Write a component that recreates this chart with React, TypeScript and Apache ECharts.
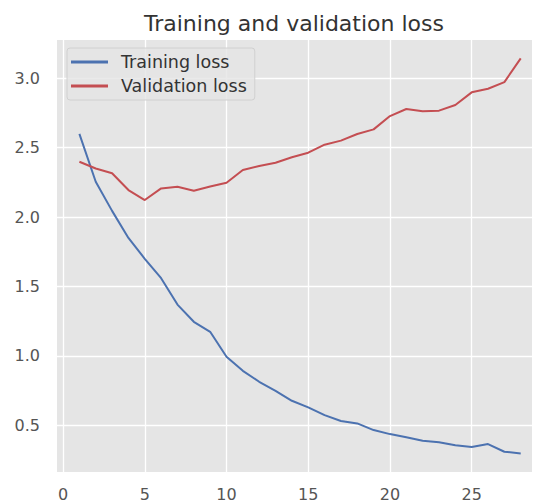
import React, { useEffect, useRef } from "react";
import * as echarts from "echarts";

const epochs = [1, 2, 3, 4, 5, 6, 7, 8, 9, 10, 11, 12, 13, 14, 15, 16, 17, 18, 19, 20, 21, 22, 23, 24, 25, 26, 27, 28];
const trainingLoss = [2.60, 2.255, 2.045, 1.85, 1.70, 1.56, 1.37, 1.246, 1.174, 0.994, 0.893, 0.814, 0.749, 0.677, 0.630, 0.574, 0.531, 0.514, 0.466, 0.437, 0.414, 0.389, 0.378, 0.356, 0.344, 0.365, 0.310, 0.298];
const validationLoss = [2.399, 2.35, 2.316, 2.195, 2.123, 2.207, 2.219, 2.19, 2.22, 2.248, 2.339, 2.368, 2.392, 2.431, 2.464, 2.522, 2.551, 2.599, 2.632, 2.728, 2.779, 2.762, 2.767, 2.808, 2.899, 2.925, 2.973, 3.144];
const xTicks = [0, 5, 10, 15, 20, 25];
const yTicks = [0.5, 1.0, 1.5, 2.0, 2.5, 3.0];
const seriesNames = ["Training loss", "Validation loss"];
const titleText = "Training and validation loss";

export default function App() {
  const ref = useRef<HTMLDivElement>(null);
  useEffect(() => {
    if (!ref.current) return;
    const chart = echarts.init(ref.current, null, { renderer: "svg" });
    const font = "DejaVu Sans";
    chart.setOption({
      animation: false,
      backgroundColor: "#ffffff",
      title: {
        text: titleText,
        left: 139,
        top: 7,
        textStyle: { fontFamily: font, fontSize: 22, fontWeight: "normal", color: "#333333" },
      },
      legend: {
        orient: "vertical",
        left: 67,
        top: 48,
        padding: [5, 8, 5, 4],
        itemGap: 6,
        itemWidth: 37,
        itemHeight: 3,
        icon: "rect",
        backgroundColor: "rgba(229,229,229,0.8)",
        borderColor: "#d0d0d0",
        borderWidth: 1,
        borderRadius: 3,
        textStyle: { fontFamily: font, fontSize: 17.5, color: "#333333", padding: [0, 0, 0, 8] },
        data: seriesNames,
      },
      grid: {
        left: 57,
        top: 40,
        right: 2,
        height: 432,
        show: true,
        backgroundColor: "#E5E5E5",
        borderWidth: 0,
      },
      xAxis: {
        type: "value",
        min: -0.37,
        max: 28.69,
        axisLine: { show: false },
        axisTick: { show: false, customValues: xTicks },
        axisLabel: {
          customValues: xTicks,
          fontFamily: font,
          fontSize: 16,
          color: "#555555",
          margin: 14,
        },
        splitLine: { show: true, lineStyle: { color: "#ffffff", width: 1.3 } },
      },
      yAxis: {
        type: "value",
        min: 0.164,
        max: 3.276,
        axisLine: { show: false },
        axisTick: { show: false, customValues: yTicks },
        axisLabel: {
          customValues: yTicks,
          formatter: (v: number) => v.toFixed(1),
          fontFamily: font,
          fontSize: 16,
          color: "#555555",
          margin: 17,
        },
        splitLine: { show: true, lineStyle: { color: "#ffffff", width: 1.3 } },
      },
      series: [
        {
          name: seriesNames[0],
          type: "line",
          data: epochs.map((e, i) => [e, trainingLoss[i]]),
          showSymbol: false,
          symbol: "none",
          lineStyle: { color: "#4C72B0", width: 2 },
          itemStyle: { color: "#4C72B0" },
        },
        {
          name: seriesNames[1],
          type: "line",
          data: epochs.map((e, i) => [e, validationLoss[i]]),
          showSymbol: false,
          symbol: "none",
          lineStyle: { color: "#C44E52", width: 2 },
          itemStyle: { color: "#C44E52" },
        },
      ],
    });
    return () => chart.dispose();
  }, []);
  return (
    <div
      ref={ref}
      style={{ position: "fixed", left: 0, top: 0, width: 534, height: 504 }}
    />
  );
}
